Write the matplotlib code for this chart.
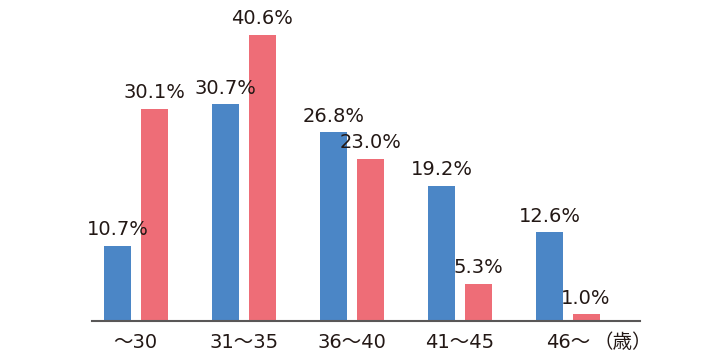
import numpy as np
import matplotlib
matplotlib.use("Agg")
import matplotlib.pyplot as plt

plt.rcParams['font.family'] = ['DejaVu Sans', 'Noto Sans CJK JP']

categories = ["～30", "31～35", "36～40", "41～45", "46～"]
blue_vals = [10.7, 30.7, 26.8, 19.2, 12.6]
red_vals = [30.1, 40.6, 23.0, 5.3, 1.0]
unit_label = "（歳）"

blue = "#4b86c6"
red = "#ee6d77"
txt = "#231815"

fig = plt.figure(figsize=(7.09, 3.60), dpi=100)
ax = fig.add_axes([92 / 709, 39 / 360, 548 / 709, 321 / 360])

x = np.arange(len(categories))
w = 0.25
off = 0.17
ax.bar(x - off, blue_vals, w, color=blue)
ax.bar(x + off, red_vals, w, color=red)

for xi, v in zip(x, blue_vals):
    ax.text(xi - off, v + 0.9, f"{v:.1f}%", ha="center", va="bottom",
            fontsize=14, color=txt)
for xi, v in zip(x, red_vals):
    ax.text(xi + off, v + 0.9, f"{v:.1f}%", ha="center", va="bottom",
            fontsize=14, color=txt)

ax.set_xlim(-0.405, 4.669)
ax.set_ylim(0, 45.5)
ax.set_xticks(x)
ax.set_xticklabels(categories, fontsize=14, color=txt)
ax.tick_params(axis="x", length=0, pad=9)
ax.set_yticks([])
for s in ["top", "right", "left"]:
    ax.spines[s].set_visible(False)
ax.spines["bottom"].set_color("#595757")
ax.spines["bottom"].set_linewidth(1.5)

ax.text(4.51, -1.75, unit_label, ha="center", va="top", fontsize=14,
        color=txt, clip_on=False)

fig.savefig("out.png", dpi=100)
